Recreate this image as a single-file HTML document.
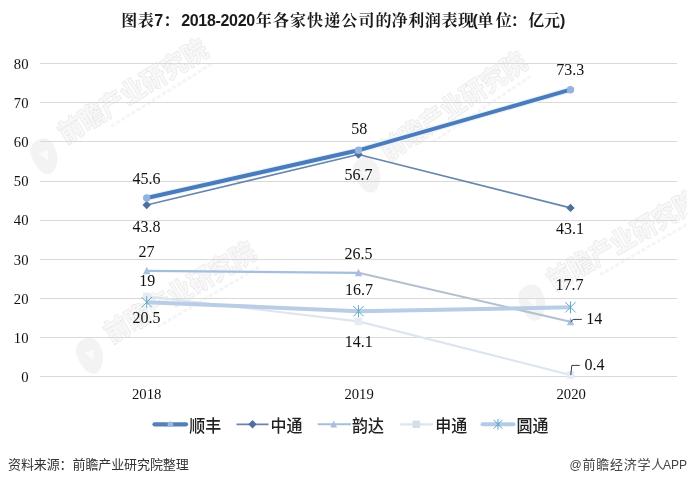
<!DOCTYPE html>
<html lang="zh-CN">
<head>
<meta charset="utf-8">
<title>图表7：2018-2020年各家快递公司的净利润表现</title>
<style>
html,body{margin:0;padding:0;background:#fff;}
body{width:687px;height:485px;overflow:hidden;position:relative;}
svg{display:block;position:absolute;left:0;top:0;}
.num{font-family:"Liberation Serif",serif;font-size:14.67px;fill:#111;}
.title{font-family:"Liberation Sans","Noto Serif CJK SC",serif;font-weight:bold;font-size:16px;fill:#1a1a1a;}
.tl{font-size:16px;}
.leg{font-family:"Liberation Sans","Noto Sans CJK SC",sans-serif;font-size:16px;font-weight:500;fill:#222;}
.foot{font-family:"Liberation Sans","Noto Sans CJK SC",sans-serif;font-size:13px;fill:#333;}
.wm{font-family:"Liberation Sans","Noto Sans CJK SC",sans-serif;font-weight:bold;font-size:27px;letter-spacing:0px;fill:#f8f8f8;stroke:#e5e5e5;stroke-width:1.2px;paint-order:stroke;}
</style>
</head>
<body>
<svg width="687" height="485" viewBox="0 0 687 485">
<rect width="687" height="485" fill="#fff"/>

<!-- watermarks -->
<g id="wms">
<g transform="translate(65.75,143.9) rotate(-31.8)"><path d="M-36,-8 q4,-12 16,-10 q10,2 9,14 q-1,14 -12,20 q-8,4 -12,-4 q-3,-8 -1,-20z" fill="#f3f3f3"/><path d="M-28,-6 l10,2 l-6,9z" fill="#fbfbfb"/><line x1="48" x2="166" y1="9" y2="9" stroke="#f5f5f5" stroke-width="3" stroke-dasharray="4 2"/><text class="wm" x="0" y="0" transform="scale(0.9,0.98)">前瞻产业研究院</text></g>
<g transform="translate(388,161.5) rotate(-34)"><path d="M-36,-8 q4,-12 16,-10 q10,2 9,14 q-1,14 -12,20 q-8,4 -12,-4 q-3,-8 -1,-20z" fill="#f3f3f3"/><path d="M-28,-6 l10,2 l-6,9z" fill="#fbfbfb"/><line x1="48" x2="166" y1="9" y2="9" stroke="#f5f5f5" stroke-width="3" stroke-dasharray="4 2"/><text class="wm" x="0" y="0" transform="scale(0.9,0.98)">前瞻产业研究院</text></g>
<g transform="translate(111.6,343.7) rotate(-30.6)"><path d="M-36,-8 q4,-12 16,-10 q10,2 9,14 q-1,14 -12,20 q-8,4 -12,-4 q-3,-8 -1,-20z" fill="#f3f3f3"/><path d="M-28,-6 l10,2 l-6,9z" fill="#fbfbfb"/><line x1="48" x2="166" y1="9" y2="9" stroke="#f5f5f5" stroke-width="3" stroke-dasharray="4 2"/><text class="wm" x="0" y="0" transform="scale(0.9,0.98)">前瞻产业研究院</text></g>
<g transform="translate(554,290.9) rotate(-30)"><path d="M-36,-8 q4,-12 16,-10 q10,2 9,14 q-1,14 -12,20 q-8,4 -12,-4 q-3,-8 -1,-20z" fill="#f3f3f3"/><path d="M-28,-6 l10,2 l-6,9z" fill="#fbfbfb"/><line x1="48" x2="166" y1="9" y2="9" stroke="#f5f5f5" stroke-width="3" stroke-dasharray="4 2"/><text class="wm" x="0" y="0" transform="scale(0.9,0.98)">前瞻产业研究院</text></g>
</g>

<!-- title -->
<text class="title" y="26"><tspan x="121.2" style="letter-spacing:0.6px">图表</tspan><tspan class="tl" x="154.2">7</tspan><tspan x="163.2">：</tspan><tspan class="tl" x="181.2" style="letter-spacing:-0.32px">2018-2020</tspan><tspan x="255.8" style="letter-spacing:1.1px">年各家快递公司的</tspan><tspan x="391.6" style="letter-spacing:0.6px">净利润表现</tspan><tspan class="tl" x="472.4">(</tspan><tspan x="477.2" style="letter-spacing:2.5px">单位</tspan><tspan x="510.4">：</tspan><tspan x="528.2" style="letter-spacing:-0.2px">亿元</tspan><tspan class="tl" x="560">)</tspan></text>

<!-- grid -->
<g stroke="#d9d9d9" stroke-width="1" shape-rendering="crispEdges">
<line x1="40" x2="677" y1="63.5" y2="63.5"/>
<line x1="40" x2="677" y1="102.5" y2="102.5"/>
<line x1="40" x2="677" y1="141.5" y2="141.5"/>
<line x1="40" x2="677" y1="181.5" y2="181.5"/>
<line x1="40" x2="677" y1="220.5" y2="220.5"/>
<line x1="40" x2="677" y1="259.5" y2="259.5"/>
<line x1="40" x2="677" y1="298.5" y2="298.5"/>
<line x1="40" x2="677" y1="337.5" y2="337.5"/>
<line x1="40" x2="677" y1="376.5" y2="376.5"/>
</g>

<!-- y axis labels -->
<g class="num" text-anchor="end">
<text x="28.5" y="68.5">80</text>
<text x="28.5" y="107.5">70</text>
<text x="28.5" y="146.5">60</text>
<text x="28.5" y="186">50</text>
<text x="28.5" y="225">40</text>
<text x="28.5" y="264.5">30</text>
<text x="28.5" y="303.5">20</text>
<text x="28.5" y="342.5">10</text>
<text x="28.5" y="381.5">0</text>
</g>

<!-- x axis labels -->
<g class="num" text-anchor="middle">
<text x="146.7" y="399">2018</text>
<text x="359.1" y="399">2019</text>
<text x="571.2" y="399">2020</text>
</g>

<!-- series: 申通 -->
<polyline points="146.7,296.3 358.5,321.4 570.5,375" fill="none" stroke="#dde6f0" stroke-width="2.2"/>
<g fill="#e4ebf4"><rect x="143" y="292.6" width="7.4" height="7.4"/><rect x="354.8" y="317.7" width="7.4" height="7.4"/><rect x="566.8" y="371.3" width="7.4" height="7.4"/></g>

<!-- series: 韵达 -->
<polyline points="146.7,270.8 358.5,272.8" fill="none" stroke="#a4bedf" stroke-width="2.2"/>
<polyline points="358.5,272.8 570.5,321.8" fill="none" stroke="#b4c0d2" stroke-width="2"/>
<g fill="#a9bfe0"><path d="M146.7,266.8 l3.7,7.4 h-7.4z"/><path d="M358.5,268.8 l3.7,7.4 h-7.4z"/><path d="M570.5,317.8 l3.7,7.4 h-7.4z"/></g>

<!-- series: 圆通 -->
<polyline points="146.7,302.2 358.5,311.2 570.5,307.3" fill="none" stroke="#b9cde7" stroke-width="4" stroke-linejoin="round"/>
<g stroke="#5cadc8" stroke-width="1" fill="none">
<path d="M146.7,296.2 v12 M141.5,297 l10.4,10.4 M151.9,297 l-10.4,10.4"/>
<path d="M358.5,305.2 v12 M353.3,306 l10.4,10.4 M363.7,306 l-10.4,10.4"/>
<path d="M570.5,301.3 v12 M565.3,302.1 l10.4,10.4 M575.7,302.1 l-10.4,10.4"/>
</g>

<!-- series: 中通 -->
<polyline points="146.7,198 358.5,150.3 570.5,89.7" fill="none" stroke="#eaf4fb" stroke-width="6.4" stroke-linejoin="round" stroke-linecap="round"/>
<polyline points="146.7,205 358.5,154.5 570.5,207.9" fill="none" stroke="#6786ae" stroke-width="1.6" stroke-linejoin="round"/>
<g fill="#4f6f9d"><path d="M146.7,200.8 l4.2,4.2 l-4.2,4.2 l-4.2,-4.2z"/><path d="M358.5,150.3 l4.2,4.2 l-4.2,4.2 l-4.2,-4.2z"/><path d="M570.5,203.7 l4.2,4.2 l-4.2,4.2 l-4.2,-4.2z"/></g>

<!-- series: 顺丰 -->
<polyline points="146.7,198 358.5,150.3 570.5,89.7" fill="none" stroke="#4a7bbc" stroke-width="4" stroke-linejoin="round" stroke-linecap="round"/>
<g fill="#93b3de"><circle cx="146.7" cy="198" r="3.7"/><circle cx="358.5" cy="150.3" r="3.7"/><circle cx="570.5" cy="89.7" r="3.7"/></g>

<!-- leader lines -->
<g fill="none" stroke="#2c3a50" stroke-width="1">
<path d="M570.8,322.2 q1.2,-2.8 3,-2.8 h8"/>
<path d="M570.8,375 l1,-9.6 h8"/>
</g>

<!-- data labels -->
<g class="num" text-anchor="middle" style="font-size:16px">
<text x="146.6" y="183.6">45.6</text>
<text x="146.6" y="231.6">43.8</text>
<text x="146.6" y="256.8">27</text>
<text x="147.2" y="285.7">19</text>
<text x="146.6" y="322.9">20.5</text>
<text x="359.2" y="134.1">58</text>
<text x="358.4" y="180.4">56.7</text>
<text x="358.4" y="258.5">26.5</text>
<text x="358.9" y="295.1">16.7</text>
<text x="358.8" y="347.1">14.1</text>
<text x="570.3" y="74.5">73.3</text>
<text x="570" y="233.8">43.1</text>
<text x="569.4" y="290.3">17.7</text>
<text x="594.2" y="323.9">14</text>
<text x="594.5" y="370.2">0.4</text>
</g>

<!-- legend -->
<g>
<line x1="154.5" x2="186" y1="424.3" y2="424.3" stroke="#5480ba" stroke-width="4.2" stroke-linecap="round"/>
<circle cx="170.4" cy="424.3" r="2.8" fill="#9bb7dd"/>
<text class="leg" transform="translate(189.3,431.5) scale(1,1.1)">顺丰</text>

<line x1="236.5" x2="268.5" y1="424.4" y2="424.4" stroke="#6786ae" stroke-width="1.8"/>
<path d="M252.5,420.1 l4.2,4.2 l-4.2,4.2 l-4.2,-4.2z" fill="#4f6f9d"/>
<text class="leg" transform="translate(270.5,431.5) scale(1,1.1)">中通</text>

<line x1="317.7" x2="351" y1="424.3" y2="424.3" stroke="#a4bedf" stroke-width="2"/>
<path d="M333.7,420.6 l3.4,6.8 h-6.8z" fill="#a9bfe0"/>
<text class="leg" transform="translate(352,431.5) scale(1,1.1)">韵达</text>

<line x1="400.2" x2="433" y1="424.3" y2="424.3" stroke="#dde6f0" stroke-width="2.2"/>
<rect x="412.5" y="420.6" width="7.4" height="7.4" fill="#d3deeb"/>
<text class="leg" transform="translate(435.3,431.5) scale(1,1.1)">申通</text>

<line x1="482.5" x2="513.5" y1="424.3" y2="424.3" stroke="#b5cae6" stroke-width="4" stroke-linecap="round"/>
<path d="M498,419 v10.6 M493.6,419.9 l8.8,8.8 M502.4,419.9 l-8.8,8.8" stroke="#58a6c6" stroke-width="1" fill="none"/>
<text class="leg" transform="translate(516.5,431.5) scale(1,1.1)">圆通</text>
</g>

<!-- footer -->
<text class="foot" x="8" y="468.6" style="letter-spacing:-0.1px">资料来源：前瞻产业研究院整理</text>
<text class="foot" y="468.7" style="fill:#444"><tspan x="569.6" style="font-size:12px">@</tspan><tspan x="582.6" style="letter-spacing:0.72px">前瞻经济学人</tspan><tspan x="663" style="font-size:12px">APP</tspan></text>
</svg>
</body>
</html>
